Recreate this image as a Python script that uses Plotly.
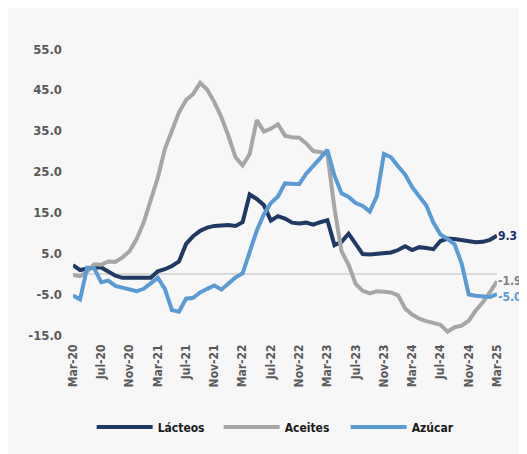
import plotly.graph_objects as go

months = ["Mar-20","Apr-20","May-20","Jun-20","Jul-20","Aug-20","Sep-20","Oct-20","Nov-20","Dec-20",
          "Jan-21","Feb-21","Mar-21","Apr-21","May-21","Jun-21","Jul-21","Aug-21","Sep-21","Oct-21",
          "Nov-21","Dec-21","Jan-22","Feb-22","Mar-22","Apr-22","May-22","Jun-22","Jul-22","Aug-22",
          "Sep-22","Oct-22","Nov-22","Dec-22","Jan-23","Feb-23","Mar-23","Apr-23","May-23","Jun-23",
          "Jul-23","Aug-23","Sep-23","Oct-23","Nov-23","Dec-23","Jan-24","Feb-24","Mar-24","Apr-24",
          "May-24","Jun-24","Jul-24","Aug-24","Sep-24","Oct-24","Nov-24","Dec-24","Jan-25","Feb-25","Mar-25"]

lacteos = [2.1, 0.9, 1.2, 1.6, 1.5, 0.6, -0.5, -1.0, -1.0, -1.1,
           -1.1, -1.0, 0.6, 1.1, 1.9, 3.0, 7.3, 9.2, 10.5, 11.3,
           11.7, 11.9, 11.9, 11.7, 12.6, 19.4, 18.3, 16.8, 13.0, 14.1,
           13.5, 12.5, 12.3, 12.5, 12.0, 12.6, 13.1, 7.0, 7.8, 9.8,
           7.2, 4.8, 4.7, 4.8, 4.9, 5.2, 5.8, 6.7, 5.8, 6.5,
           6.3, 6.0, 8.0, 8.6, 8.5, 8.3, 8.1, 7.7, 7.8, 8.3, 9.3]

aceites = [-0.3, -0.6, 0.5, 2.3, 2.2, 3.0, 2.9, 4.0, 5.5, 8.5,
           12.5, 18.0, 23.5, 30.5, 34.8, 39.5, 42.5, 44.0, 46.7, 45.0,
           42.0, 38.3, 33.7, 28.5, 26.5, 29.3, 37.6, 34.8, 35.5, 36.6,
           33.8, 33.4, 33.3, 31.9, 30.0, 29.8, 29.3, 16.0, 5.5, 2.2,
           -2.5, -4.2, -4.8, -4.3, -4.4, -4.6, -5.3, -8.5, -10.0, -11.0,
           -11.6, -12.0, -12.5, -14.2, -13.1, -12.7, -11.5, -9.0, -7.0, -4.5, -1.9]

azucar = [-5.3, -6.3, 1.5, 1.3, -2.1, -1.7, -3.0, -3.4, -4.0, -4.3,
          -3.7, -2.3, -1.0, -3.7, -8.9, -9.3, -6.1, -5.9, -4.6, -3.7,
          -2.9, -3.9, -2.4, -0.9, 0.1, 5.0, 10.5, 14.5, 17.3, 18.9,
          22.1, 22.0, 21.9, 24.5, 26.3, 28.3, 30.3, 24.0, 19.7, 18.8,
          17.3, 16.6, 15.2, 19.0, 29.3, 28.5, 26.3, 24.3, 21.2, 18.8,
          16.7, 12.5, 9.6, 8.5, 7.2, 2.5, -5.1, -5.4, -5.6, -5.7, -5.0]

y_ticks = [-15, -5, 5, 15, 25, 35, 45, 55]

series = [
    ("Lácteos", lacteos, "#1F3864", "#13306B", 0),
    ("Aceites", aceites, "#A6A6A6", "#808080", 0),
    ("Azúcar", azucar, "#5B9BD5", "#5B9BD5", -3),
]

FONT = "DejaVu Sans Condensed, Liberation Sans Narrow, Arial Narrow, sans-serif"

fig = go.Figure()
for name, vals, color, lcolor, ysh in series:
    fig.add_trace(go.Scatter(
        x=months, y=vals, name=name, mode="lines",
        line=dict(color=color, width=4), cliponaxis=False,
    ))
    fig.add_annotation(
        x=months[-1], y=vals[-1], text=f"<b>{vals[-1]:.1f}</b>",
        xanchor="left", yanchor="middle", showarrow=False, xshift=0, yshift=ysh,
        borderpad=0,
        font=dict(family=FONT, size=12, color=lcolor),
    )

fig.update_layout(
    width=519, height=446,
    margin=dict(l=65, r=30, t=41, b=113),
    paper_bgcolor="#F7F7F7", plot_bgcolor="#F7F7F7",
    showlegend=True,
    legend=dict(
        orientation="h", x=0.044, y=-0.322, xanchor="left", yanchor="middle",
        itemwidth=56, entrywidth=56, entrywidthmode="pixels",
        font=dict(family=FONT, size=12, color="#1A1A1A", weight="bold"),
        bgcolor="rgba(0,0,0,0)",
    ),
    font=dict(family=FONT),
)

fig.update_xaxes(
    type="category", range=[0, 60],
    tickmode="array", tickvals=months[::4], ticktext=[f"<b>{m}</b>" for m in months[::4]],
    tickangle=-90, showgrid=False, showline=False, ticks="", zeroline=False,
    tickfont=dict(family=FONT, size=12, color="#595959"),
    ticklabelstandoff=6,
)
fig.update_yaxes(
    range=[-15, 55], tickmode="array", tickvals=y_ticks,
    ticktext=[f"<b>{v:.1f}</b>" for v in y_ticks],
    showgrid=False, showline=False, ticks="",
    zeroline=True, zerolinecolor="#D9D9D9", zerolinewidth=2,
    tickfont=dict(family=FONT, size=13, color="#595959"),
    ticklabelstandoff=10,
)

fig.write_html("out.html")
